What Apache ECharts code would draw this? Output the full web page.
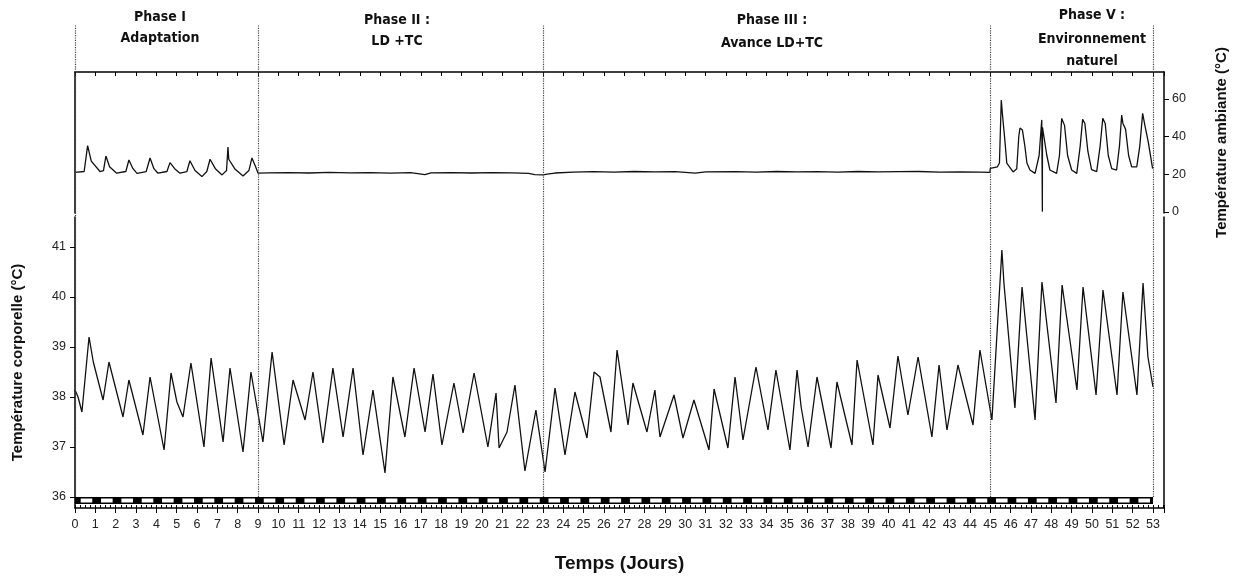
<!DOCTYPE html>
<html>
<head>
<meta charset="utf-8">
<script src="https://cdn.jsdelivr.net/npm/echarts@6/dist/echarts.min.js"></script>
<style>
html,body{margin:0;padding:0;background:#fff;}
#chart{width:1236px;height:578px;}
</style>
</head>
<body>
<div id="chart"></div>
<script>
// ---- data ----
const bodyDays = [0.00,0.15,0.34,0.69,0.90,1.38,1.67,2.36,2.65,3.34,3.69,4.38,4.72,5.01,5.31,5.70,6.34,6.69,7.28,7.62,8.26,8.65,9.24,9.69,10.28,10.72,11.31,11.70,12.19,12.68,13.18,13.67,14.16,14.65,15.24,15.63,16.22,16.67,17.21,17.60,18.04,18.63,19.08,19.62,20.30,20.70,20.85,21.24,21.63,22.12,22.66,23.11,23.60,24.09,24.58,25.17,25.52,25.81,26.35,26.65,27.19,27.43,28.12,28.51,28.76,29.45,29.89,30.43,31.17,31.42,32.10,32.45,32.84,33.48,34.07,34.46,35.15,35.50,35.70,36.04,36.48,37.17,37.46,38.20,38.45,39.23,39.48,40.07,40.46,40.95,41.45,42.13,42.48,42.87,43.41,44.15,44.49,45.08,45.57,45.67,46.21,46.56,47.20,47.54,48.23,48.53,49.26,49.56,50.20,50.54,51.23,51.52,52.21,52.51,52.75,53.00];
const bodyTemp = [38.14,38.0,37.7,39.2,38.7,37.94,38.7,37.6,38.34,37.24,38.4,36.94,38.48,37.9,37.6,38.68,37.0,38.78,37.1,38.58,36.9,38.5,37.1,38.9,37.04,38.34,37.54,38.5,37.08,38.58,37.2,38.58,36.84,38.14,36.48,38.4,37.2,38.58,37.3,38.46,37.04,38.28,37.28,38.48,37.0,38.08,36.98,37.3,38.24,36.52,37.74,36.5,38.18,36.84,38.1,37.18,38.5,38.4,37.3,38.94,37.44,38.28,37.3,38.14,37.2,38.04,37.18,37.94,36.94,38.16,36.98,38.4,37.14,38.6,37.34,38.54,36.94,38.54,37.8,37.0,38.4,36.98,38.3,37.04,38.74,37.04,38.44,37.38,38.82,37.64,38.8,37.2,38.64,37.34,38.64,37.44,38.94,37.54,40.94,40.28,37.78,40.2,37.54,40.3,37.88,40.24,38.14,40.2,38.04,40.14,38.04,40.1,38.04,40.28,38.8,38.2];

const ambDays = [0.00,0.45,0.62,0.80,1.23,1.40,1.52,1.70,2.05,2.50,2.65,2.85,3.05,3.50,3.69,3.88,4.08,4.52,4.67,4.90,5.16,5.50,5.65,5.90,6.24,6.48,6.64,6.90,7.23,7.45,7.52,7.56,7.85,8.26,8.55,8.70,8.88,9.00,9.5,10.5,11.5,12.5,13.5,14.5,15.5,16.5,17.2,17.5,18.5,19.5,20.5,21.5,22.3,22.6,23.0,23.3,23.6,24.5,25.5,26.5,27.5,28.5,29.5,30.5,31.0,32.5,33.5,34.5,35.5,36.5,37.5,38.5,39.5,40.5,41.5,42.5,43.5,44.5,44.98,45.0,45.35,45.45,45.54,45.60,45.70,45.81,46.12,46.30,46.40,46.46,46.58,46.70,46.80,46.95,47.2,47.40,47.53,47.555,47.56,47.565,47.65,47.78,47.93,48.26,48.40,48.51,48.65,48.80,49.00,49.25,49.42,49.54,49.65,49.80,49.98,50.23,50.40,50.53,50.65,50.80,50.97,51.21,51.35,51.46,51.52,51.65,51.80,51.95,52.20,52.35,52.49,52.60,52.77,52.98];
const ambTemp = [21.0,21.5,35.2,27,21.5,22,29.7,24,20.6,21.5,27.6,23,20.5,21.5,28.7,23,20.6,21.5,26.2,23,20.6,21.5,27.2,22,18.8,21.5,28.0,23,19.7,22,34.5,28,23,19.1,22,28.7,24,20.6,20.8,20.9,20.7,21.0,20.8,20.9,20.6,20.9,19.8,20.8,20.9,20.7,20.9,20.8,20.5,19.9,19.7,20.2,20.7,21.2,21.4,21.2,21.5,21.3,21.4,20.6,21.3,21.4,21.2,21.5,21.3,21.4,21.2,21.5,21.3,21.4,21.5,21.2,21.3,21.2,21.0,23.2,24,26,59.5,51.5,40,26,21.3,23,40,44.6,43.5,35,26,22.3,20.5,30,48.9,48,0.2,45,44,30,22.3,20.5,30,49.7,46,30,22.3,20.5,35,49.2,47,32,22.5,21.4,35,49.7,47,30,23,22.3,35,51.5,47,44,30,24,24,35,52.4,46,37,23];

// light (white) periods of the LD bar, in days
const lightOn  = [0.28,1.28,2.28,3.28,4.28,5.28,6.28,7.28,8.28,9.28,10.28,11.28,12.28,13.28,14.28,15.28,16.28,17.28,18.28,19.28,20.28,21.28,22.28,23.28,24.28,25.28,26.28,27.28,28.28,29.28,30.28,31.28,32.28,33.28,34.28,35.28,36.28,37.28,38.28,39.28,40.28,41.28,42.28,43.28,44.28,45.28,46.28,47.28,48.28,49.28,50.28,51.28,52.28];
const lightOff = [0.85,1.85,2.85,3.85,4.85,5.85,6.85,7.85,8.85,9.85,10.85,11.85,12.85,13.85,14.85,15.85,16.85,17.85,18.85,19.85,20.85,21.85,22.85,23.85,24.85,25.85,26.85,27.85,28.85,29.85,30.85,31.85,32.85,33.85,34.85,35.85,36.85,37.85,38.85,39.85,40.85,41.85,42.85,43.85,44.85,45.85,46.85,47.85,48.85,49.85,50.85,51.85,52.85];

const bodyTicks = [36,37,38,39,40,41];
const ambTicks = [0,20,40,60];
const phaseLines = [0,9,23,45,53];
const phaseTexts = [
  {lines:['Phase I','Adaptation'], x:160, y:[17,38]},
  {lines:['Phase II :','LD +TC'], x:397, y:[20,41]},
  {lines:['Phase III :','Avance LD+TC'], x:772, y:[20,43]},
  {lines:['Phase V :','Environnement','naturel'], x:1092, y:[15,39,61]}
];

// ---- chart ----
const zip = (a,b) => a.map((v,i)=>[v,b[i]]);
const ldData = [[0,53,0]].concat(lightOn.map((v,i)=>[v,lightOff[i],1]));

const FONT = "'Liberation Sans', Arial, sans-serif";
const NARROW = "'Liberation Sans Narrow', 'DejaVu Sans Condensed', 'Liberation Sans', sans-serif";
const axisLine = {show:true, onZero:false, lineStyle:{color:'#000', width:1.5}};
const XMAX = 53.54;

const graphics = [];
phaseTexts.forEach(p => p.lines.forEach((t,i) => graphics.push({
  type:'text', x:p.x, y:p.y[i],
  style:{text:t, x:0, y:0, align:'center', verticalAlign:'middle', fill:'#111', font:"bold 14px " + NARROW}
})));

const gridBase = {left:75, right:72, containLabel:false, outerBoundsMode:'none'};
const option = {
  animation:false,
  backgroundColor:'#fff',
  graphic: graphics,
  grid:[
    Object.assign({top:72, height:141}, gridBase),
    Object.assign({top:217, height:291}, gridBase),
    Object.assign({top:25, height:472}, gridBase)
  ],
  xAxis:[
    {gridIndex:0, type:'value', position:'top', min:0, max:XMAX, interval:1,
     axisLine:axisLine, axisTick:{show:true, inside:true, length:4, lineStyle:{color:'#000'}},
     axisLabel:{show:false}, splitLine:{show:false}},
    {gridIndex:1, type:'value', position:'bottom', min:0, max:XMAX, interval:1,
     axisLine:axisLine, axisTick:{show:true, length:5, lineStyle:{color:'#000'}},
     axisLabel:{show:true, margin:10, color:'#222', fontSize:12.5, fontFamily:FONT,
       formatter: v => Number.isInteger(v) ? String(v) : ''},
     splitLine:{show:false},
     name:'Temps (Jours)', nameLocation:'middle', nameGap:46,
     nameTextStyle:{fontSize:19, fontWeight:'bold', color:'#111', fontFamily:FONT}},
    {gridIndex:1, type:'value', position:'bottom', min:0, max:XMAX, interval:0.25,
     axisLine:{show:false, onZero:false}, axisTick:{show:true, inside:true, length:3, lineStyle:{color:'#000'}},
     axisLabel:{show:false}, splitLine:{show:false}},
    {gridIndex:2, type:'value', min:0, max:XMAX, show:false, axisLine:{onZero:false}}
  ],
  yAxis:[
    {gridIndex:0, type:'value', position:'right', min:-0.53, max:74.34,
     axisLine:axisLine,
     axisTick:{show:true, length:5, customValues:ambTicks, lineStyle:{color:'#000'}},
     axisLabel:{show:true, margin:8, color:'#222', fontSize:12.5, fontFamily:FONT, customValues:ambTicks},
     splitLine:{show:false},
     name:'Température ambiante (°C)', nameLocation:'middle', nameGap:50, nameRotate:90,
     nameTextStyle:{fontSize:15, fontWeight:'bold', color:'#111', fontFamily:FONT}},
    {gridIndex:0, type:'value', position:'left', min:-0.53, max:74.34,
     axisLine:axisLine, axisTick:{show:false}, axisLabel:{show:false}, splitLine:{show:false}},
    {gridIndex:1, type:'value', position:'left', min:35.78, max:41.6,
     axisLine:axisLine,
     axisTick:{show:true, length:5, customValues:bodyTicks, lineStyle:{color:'#000'}},
     axisLabel:{show:true, margin:9, color:'#222', fontSize:12.5, fontFamily:FONT, customValues:bodyTicks},
     splitLine:{show:false},
     name:'Température corporelle (°C)', nameLocation:'middle', nameGap:50, nameRotate:90,
     nameTextStyle:{fontSize:15, fontWeight:'bold', color:'#111', fontFamily:FONT}},
    {gridIndex:1, type:'value', position:'right', min:35.78, max:41.6,
     axisLine:axisLine, axisTick:{show:false}, axisLabel:{show:false}, splitLine:{show:false}},
    {gridIndex:2, type:'value', min:0, max:1, show:false}
  ],
  series:[
    {type:'line', xAxisIndex:3, yAxisIndex:4, data:[[0,0]], symbol:'none',
     lineStyle:{opacity:0}, silent:true,
     markLine:{silent:true, symbol:'none', label:{show:false},
       lineStyle:{type:'dotted', color:'#444', width:1.2},
       data: phaseLines.map(d=>({xAxis:d}))}},
    {type:'line', xAxisIndex:0, yAxisIndex:0, data:zip(ambDays, ambTemp),
     symbol:'none', lineStyle:{color:'#111', width:1.3}},
    {type:'line', xAxisIndex:1, yAxisIndex:2, data:zip(bodyDays, bodyTemp),
     symbol:'none', lineStyle:{color:'#111', width:1.3}},
    {type:'custom', xAxisIndex:1, yAxisIndex:2, data:ldData,
     renderItem:(params, api) => {
       const a = api.coord([api.value(0), 36.0]);
       const b = api.coord([api.value(1), 35.86]);
       const light = api.value(2) === 1;
       return {type:'rect',
         shape: light ? {x:a[0], y:a[1]+1.5, width:b[0]-a[0], height:b[1]-a[1]-3}
                      : {x:a[0], y:a[1], width:b[0]-a[0], height:b[1]-a[1]},
         style:{fill: light ? '#fff' : '#000'}};
     }}
  ]
};
const chart = echarts.init(document.getElementById('chart'), null, {renderer:'canvas'});
chart.setOption(option);
</script>
</body>
</html>
